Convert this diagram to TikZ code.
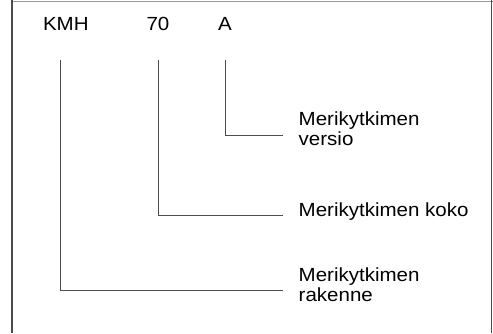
\documentclass[tikz,border=0pt]{standalone}
\usepackage{fontspec}
\setmainfont[FakeStretch=1.08]{Liberation Sans}
\begin{document}
\begin{tikzpicture}[x=1pt,y=1pt,
  conn/.style={draw=black!70, line width=0.9pt},
  frame/.style={draw=black!70, line width=1.2pt},
  code/.style={anchor=base, inner sep=0pt, font=\fontsize{19}{20}\selectfont},
  lbl/.style={anchor=base west, inner sep=0pt, align=left, font=\fontsize{19}{20}\selectfont}]
\useasboundingbox (0,0) rectangle (493,333);
% frame
\draw[draw=black!40, line width=1.2pt] (11,331.8) -- (493,331.8);
\draw[frame] (12,333) -- (12,0);
\draw[frame] (491.5,333) -- (491.5,0);
% codes
\node[code] (kmh) at (65.8,302.3) {KMH};
\node[code] (n70) at (158,302.3) {70};
\node[code] (a) at (225,302.3) {A};
% labels (base anchor = last line's baseline)
\node[lbl] (lv) at (298.5,188) {Merikytkimen\\versio};
\node[lbl] (lk) at (298.5,117) {Merikytkimen koko};
\node[lbl] (lr) at (298.5,31.3) {Merikytkimen\\rakenne};
% connector coordinates
\coordinate (kmhTop) at (60.5,273);
\coordinate (kmhEnd) at (283,42.3);
\coordinate (n70Top) at (158.3,273);
\coordinate (n70End) at (283,117.7);
\coordinate (aTop) at (225.7,273);
\coordinate (aEnd) at (283,197.7);
\draw[conn] (kmhTop) |- (kmhEnd);
\draw[conn] (n70Top) |- (n70End);
\draw[conn] (aTop) |- (aEnd);
\end{tikzpicture}
\end{document}
